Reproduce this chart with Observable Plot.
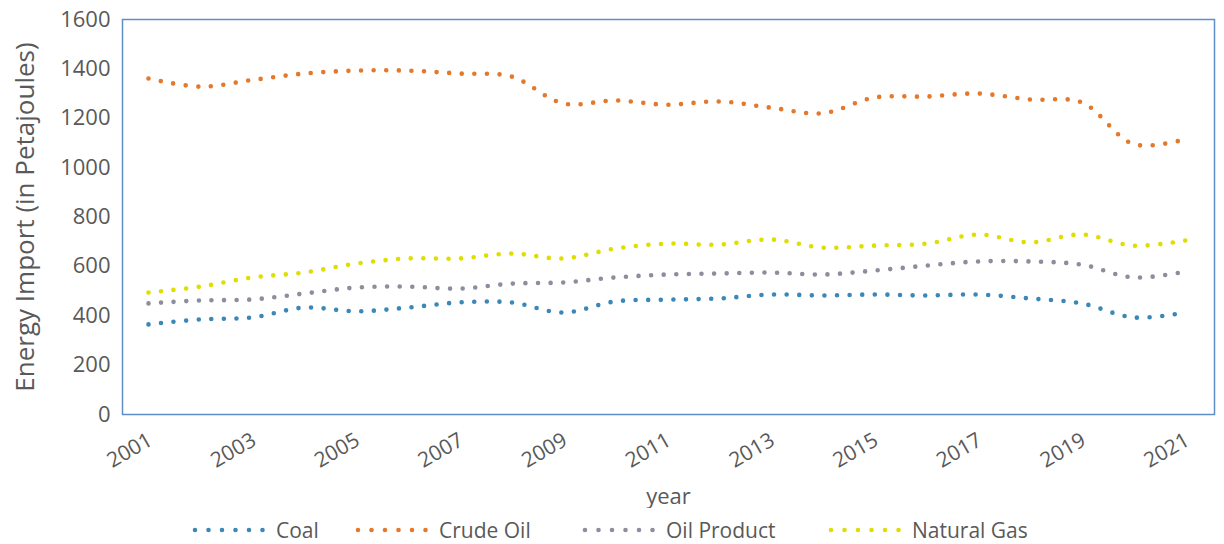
<!DOCTYPE html>
<html>
<head>
<meta charset="utf-8">
<script src="https://cdn.jsdelivr.net/npm/d3@7"></script>
<script src="https://cdn.jsdelivr.net/npm/@observablehq/plot@0.6"></script>
<style>
  html, body { margin: 0; padding: 0; background: #fff; }
  #wrap { width: 1224px; font-family: "Open Sans", sans-serif; color: #595959; }
  #legend { position: relative; width: 1224px; height: 36px; }
  .item { position: absolute; top: 6px; height: 32px; display: flex; align-items: center; font-size: 21px; color: #595959; }
  .item svg { margin-right: 6px; }
</style>
</head>
<body>
<div id="wrap">
  <div id="chart"></div>
  <div id="legend"></div>
</div>
<script>
// Annual energy imports by fuel, in petajoules
const years = [2001, 2002, 2003, 2004, 2005, 2006, 2007, 2008, 2009, 2010, 2011,
               2012, 2013, 2014, 2015, 2016, 2017, 2018, 2019, 2020, 2021];
const coal = [365, 385, 393, 433, 418, 433, 454, 454, 413, 458, 465,
              470, 486, 482, 486, 482, 486, 470, 450, 393, 413];
const crudeOil = [1361, 1328, 1355, 1381, 1393, 1393, 1381, 1369, 1260, 1272, 1255,
                  1268, 1243, 1220, 1284, 1288, 1300, 1276, 1264, 1095, 1115];
const oilProduct = [450, 462, 466, 490, 514, 518, 510, 530, 535, 555, 567,
                    571, 575, 567, 583, 603, 620, 620, 607, 555, 579];
const naturalGas = [494, 518, 555, 575, 611, 632, 632, 652, 632, 672, 692,
                    688, 709, 676, 684, 692, 729, 697, 729, 684, 705];

const seriesNames = ["Coal", "Crude Oil", "Oil Product", "Natural Gas"];
const seriesColors = ["#3b88b8", "#e4782c", "#8d8d9e", "#dede00"];
const xTicks = [2001, 2003, 2005, 2007, 2009, 2011, 2013, 2015, 2017, 2019, 2021];
const yTicks = [0, 200, 400, 600, 800, 1000, 1200, 1400, 1600];

const seriesValues = [coal, crudeOil, oilProduct, naturalGas];
const rows = seriesNames.flatMap((name, i) =>
  years.map((year, j) => ({series: name, year, value: seriesValues[i][j]}))
);

const dotted = {strokeWidth: 4.6, strokeLinecap: "round", strokeDasharray: "0 12.6"};

const chart = Plot.plot({
  width: 1224,
  height: 508,
  marginLeft: 122,
  marginRight: 10,
  marginTop: 19,
  marginBottom: 94,
  style: {fontFamily: "Open Sans, sans-serif", color: "#595959", background: "#fff"},
  x: {domain: [2001, 2021], range: [148, 1185]},
  y: {domain: [0, 1600]},
  color: {domain: seriesNames, range: seriesColors},
  marks: [
    Plot.frame({stroke: "#5f8fcb", strokeWidth: 1.5}),
    Plot.axisY({ticks: yTicks, tickFormat: d => String(d), tickSize: 0, tickPadding: 12,
                fontSize: 22, label: null}),
    Plot.axisX({ticks: xTicks, tickFormat: d => String(d), tickSize: 0, tickPadding: 24,
                tickRotate: -30, fontSize: 21, dx: 2, label: null}),
    Plot.text(["Energy Import (in Petajoules)"], {frameAnchor: "left", dx: -97, rotate: -90,
                textAnchor: "middle", fontSize: 26, fill: "#595959"}),
    Plot.text(["year"], {frameAnchor: "bottom", dy: 89, fontSize: 22, fill: "#595959"}),
    Plot.line(rows, {x: "year", y: "value", z: "series", stroke: "series",
                     curve: "catmull-rom", ...dotted})
  ]
});
document.getElementById("chart").appendChild(chart);

// Legend below the plot
const legendLeft = [192, 355, 582, 828];
const legend = document.getElementById("legend");
seriesNames.forEach((name, i) => {
  const item = document.createElement("div");
  item.className = "item";
  item.style.left = legendLeft[i] + "px";
  const sw = d3.create("svg").attr("width", 78).attr("height", 10);
  sw.append("line").attr("x1", 3).attr("x2", 72).attr("y1", 5).attr("y2", 5)
    .attr("stroke", seriesColors[i]).attr("stroke-width", 4.6)
    .attr("stroke-linecap", "round").attr("stroke-dasharray", "0 13.5");
  item.appendChild(sw.node());
  const label = document.createElement("span");
  label.textContent = name;
  item.appendChild(label);
  legend.appendChild(item);
});
</script>
</body>
</html>
